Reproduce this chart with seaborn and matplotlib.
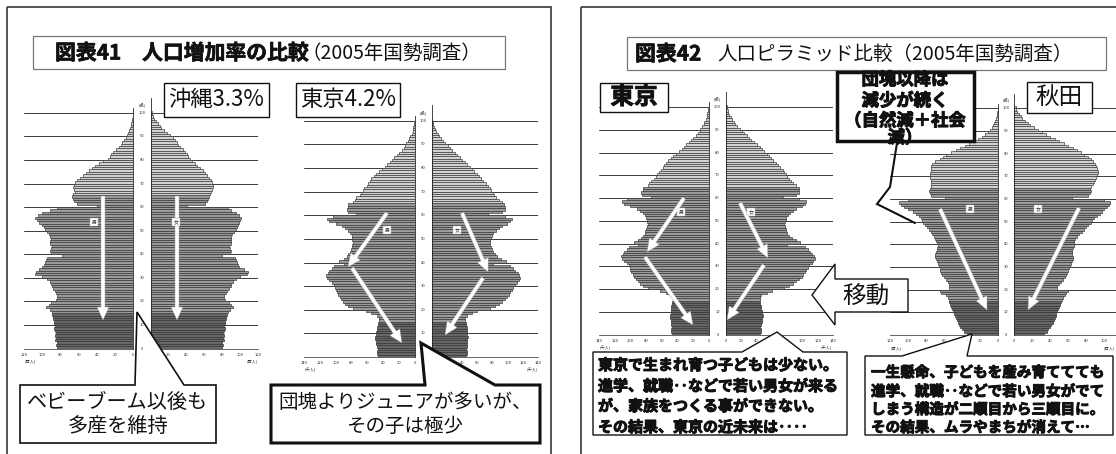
import pandas as pd
import matplotlib.pyplot as plt
import matplotlib.patheffects as pe
import seaborn as sns
from matplotlib.patches import Rectangle, Polygon, FancyArrow

W, H = 1116, 454

ages = list(range(101))

# 沖縄 (百人)
okinawa_male = [84, 85, 84, 86, 85, 86, 85, 86, 87, 86,
                87, 87, 88, 88, 89, 89, 92, 96, 93, 90,
                85, 84, 84, 85, 86, 88, 89, 90, 92, 95,
                100, 108, 107, 104, 100, 98, 97, 96, 95, 78,
                90, 91, 90, 89, 91, 92, 90, 92, 93, 95,
                97, 98, 100, 103, 106, 108, 105, 100, 92, 84,
                40, 62, 65, 66, 67, 66, 64, 65, 66, 65,
                64, 62, 58, 55, 52, 49, 45, 42, 38, 33,
                28, 26, 24, 22, 19, 16, 14, 12, 10, 8,
                7, 6, 5, 4, 3, 2, 1.5, 1, 0.8, 0.5,
                0.3]
okinawa_female = [80, 81, 80, 82, 81, 82, 81, 82, 83, 82,
                  83, 83, 84, 84, 85, 86, 88, 92, 90, 87,
                  83, 82, 82, 84, 85, 87, 89, 90, 92, 95,
                  100, 107, 108, 104, 99, 97, 96, 95, 94, 79,
                  88, 89, 88, 87, 89, 90, 89, 90, 91, 93,
                  95, 96, 97, 99, 100, 101, 99, 95, 90, 86,
                  40, 60, 63, 64, 65, 66, 67, 68, 69, 69,
                  68, 67, 65, 63, 61, 58, 55, 52, 49, 46,
                  44, 42, 40, 38, 36, 33, 31, 29, 27, 25,
                  22, 18, 15, 12, 10, 8, 6, 4, 3, 2,
                  1.5]

# 東京 (千人)
tokyo_male = [47, 48, 48, 47, 48, 49, 49, 50, 50, 49,
              49, 48, 48, 47, 47, 46, 46, 48, 55, 62,
              78, 84, 88, 91, 93, 95, 97, 99, 100, 101,
              102, 105, 108, 111, 112, 110, 108, 105, 102, 90,
              96, 90, 86, 84, 82, 81, 80, 79, 78, 79,
              79, 80, 82, 84, 88, 92, 100, 108, 111, 104,
              74, 85, 86, 84, 84, 78, 76, 74, 70, 68,
              66, 64, 61, 59, 57, 55, 52, 49, 46, 42,
              38, 35, 32, 29, 26, 23, 20, 17, 14, 12,
              11, 9, 7, 6, 4, 3, 2.5, 2, 1.2, 0.8,
              0.4]
tokyo_female = [45, 46, 46, 45, 46, 47, 47, 47, 48, 47,
                47, 46, 46, 45, 45, 44, 44, 46, 53, 60,
                76, 83, 88, 92, 96, 99, 101, 103, 105, 107,
                109, 112, 114, 116, 115, 113, 110, 107, 103, 80,
                97, 91, 86, 83, 80, 79, 78, 77, 76, 77,
                78, 79, 81, 84, 88, 92, 99, 103, 105, 96,
                74, 92, 96, 96, 95, 92, 88, 85, 82, 80,
                78, 76, 74, 71, 68, 65, 62, 59, 56, 53,
                50, 47, 44, 40, 37, 33, 30, 27, 24, 21,
                18, 15, 12, 10, 8, 6, 4.5, 3, 2, 1.5,
                1]

# 秋田 (百人)
akita_male = [35, 38, 40, 42, 43, 45, 46, 47, 48, 49,
              50, 51, 52, 53, 54, 55, 56, 58, 63, 64,
              55, 54, 55, 56, 58, 60, 62, 63, 64, 65,
              66, 67, 68, 69, 70, 70, 69, 68, 68, 67,
              68, 69, 70, 71, 73, 75, 77, 79, 81, 83,
              84, 86, 88, 91, 95, 100, 104, 108, 110, 100,
              59, 74, 76, 77, 76, 75, 74, 74, 75, 76,
              76, 76, 75, 75, 74, 73, 70, 65, 61, 58,
              52, 47, 42, 37, 32, 27, 22, 18, 14, 11,
              9, 7, 5.5, 4, 3, 2, 1.5, 1, 0.6, 0.4,
              0.2]
akita_female = [33, 36, 38, 40, 41, 43, 44, 45, 46, 47,
                48, 49, 50, 51, 52, 53, 54, 56, 58, 60,
                48, 48, 50, 52, 54, 56, 58, 59, 60, 61,
                62, 63, 64, 65, 65, 64, 64, 64, 65, 66,
                66, 67, 68, 70, 72, 75, 78, 80, 82, 85,
                87, 89, 92, 95, 98, 100, 103, 106, 107, 100,
                64, 82, 84, 85, 84, 86, 88, 89, 90, 91,
                92, 93, 93, 92, 91, 90, 88, 85, 82, 78,
                74, 70, 65, 60, 55, 50, 45, 40, 35, 31,
                26, 22, 18, 15, 12, 9, 7, 5, 3, 2,
                1.5]

age_ticks = list(range(0, 101, 10))

sns.set_style('white')
plt.rcParams['font.family'] = ['Noto Sans CJK JP', 'DejaVu Sans']

fig = plt.figure(figsize=(W / 100, H / 100), dpi=100)
fig.patch.set_facecolor('white')

PAL = {'young': '#666666', 'work': '#9a9a9a', 'old': '#d2d2d2'}


def rect(l, t, r, b):
    return [l / W, 1 - b / H, (r - l) / W, (b - t) / H]


def age_group(a):
    if a < 15:
        return 'young'
    if a < 65:
        return 'work'
    return 'old'


def half(values, l, r, y0, ppy, vmax, top, male, tick_max=None):
    ax = fig.add_axes(rect(l, y0 - (top + 0.5) * ppy, r, y0))
    df = pd.DataFrame({'age': ages, 'pop': values})
    df['group'] = df['age'].map(age_group)
    sns.barplot(data=df, x='pop', y='age', hue='group', palette=PAL, orient='h',
                native_scale=True, dodge=False, width=1.0, errorbar=None,
                edgecolor='#303030', linewidth=0.45, saturation=1,
                legend=False, ax=ax, zorder=2)
    for k in age_ticks[1:]:
        ax.axhline(k - 0.5, color='#3a3a3a', lw=0.7, zorder=0.5)
    ax.set_ylim(-0.5, top)
    ax.set_xlim((vmax, 0) if male else (0, vmax))
    ax.set_xticks(range(0, (tick_max or vmax) + 1, 20))
    ax.set_yticks([])
    ax.set_xlabel('')
    ax.set_ylabel('')
    ax.tick_params(axis='x', labelsize=3, length=1.5, width=0.4, pad=1.5, colors='#333')
    for s in ['top', 'left', 'right']:
        ax.spines[s].set_visible(False)
    inner = 'right' if male else 'left'
    ax.spines[inner].set_visible(True)
    ax.spines[inner].set_linewidth(0.6)
    ax.spines['bottom'].set_linewidth(0.5)
    ax.patch.set_alpha(0)
    return ax


def pyramid(male, female, cfg, tick_max=None):
    half(male, cfg['ml'], cfg['m0'], cfg['y0'], cfg['ppy'], cfg['vmax'], 101.5, True)
    half(female, cfg['f0'], cfg['fr'], cfg['y0'], cfg['ppy'], cfg['vmax'], 106, False, tick_max)


OKI = dict(ml=24, m0=133.3, f0=150.7, fr=258.3, y0=348.5, ppy=2.356, vmax=120)
TKL = dict(ml=304, m0=415, f0=431.7, fr=538.3, y0=357, ppy=2.362, vmax=140)
TKR = dict(ml=599, m0=709, f0=726, fr=833, y0=334.8, ppy=2.278, vmax=140)
AKT = dict(ml=890, m0=998, f0=1014.3, fr=1122, y0=335, ppy=2.267, vmax=120)

pyramid(okinawa_male, okinawa_female, OKI)
pyramid(tokyo_male, tokyo_female, TKL)
pyramid(tokyo_male, tokyo_female, TKR)
pyramid(akita_male, akita_female, AKT, tick_max=100)

# overlay in pixel coordinates for boxes, callouts and arrows
ov = fig.add_axes([0, 0, 1, 1], zorder=10)
ov.set_xlim(0, W)
ov.set_ylim(H, 0)
ov.axis('off')
ov.patch.set_alpha(0)

INK = '#111111'
HEAVY = [pe.withStroke(linewidth=0.7, foreground=INK)]


def box(l, t, r, b, lw=1.0, ec=INK):
    ov.add_patch(Rectangle((l, t), r - l, b - t, fc='white', ec=ec, lw=lw))


def callout(pts, lw=1.0):
    ov.add_patch(Polygon(pts, closed=True, fc='white', ec=INK, lw=lw, joinstyle='miter'))


def white_arrow(x0, y0, x1, y1):
    ov.add_patch(FancyArrow(x0, y0, x1 - x0, y1 - y0, width=4, head_width=12,
                            head_length=13, length_includes_head=True,
                            fc='white', ec='#9a9a9a', lw=0.3))


def age_axis(cfg, unit, right_unit_x=None):
    cx = (cfg['m0'] + cfg['f0']) / 2
    for k in age_ticks:
        ov.text(cx, cfg['y0'] - k * cfg['ppy'], str(k), fontsize=3, ha='center',
                va='center', color='#333')
    ov.text(cx, cfg['y0'] - 103.5 * cfg['ppy'], '(歳)', fontsize=3, ha='center',
            va='center', color='#333')
    ov.text(cfg['ml'] + 1, cfg['y0'] + 13, unit, fontsize=3, ha='left', va='center', color='#333')
    ov.text(right_unit_x or cfg['fr'] - 12, cfg['y0'] + 13, unit, fontsize=3, ha='left',
            va='center', color='#333')


def sex_labels(xm, xf, y):
    for x, s in [(xm, '男'), (xf, '女')]:
        ov.text(x, y, s, fontsize=3.5, ha='center', va='center', color='#333',
                bbox=dict(boxstyle='square,pad=0.35', fc='white', ec='#bbbbbb', lw=0.3))


# panel frames
ov.add_patch(Rectangle((6.5, 6.5), 544, 480, fill=False, ec='#3a3a3a', lw=1.2))
ov.add_patch(Rectangle((580.5, 7), 560, 480, fill=False, ec='#3a3a3a', lw=1.2))

renderer = fig.canvas.get_renderer()


def title(x, y, bold_txt, reg_txt, gap):
    t = ov.text(x, y, bold_txt, fontsize=15, fontweight='bold', ha='left', va='center',
                color=INK, path_effects=[pe.withStroke(linewidth=0.5, foreground=INK)])
    x1 = t.get_window_extent(renderer).x1
    ov.text(x1 + gap, y, reg_txt, fontsize=14, ha='left', va='center', color=INK)


box(33, 36, 505, 69, lw=0.9, ec='#777777')
title(55, 53, '図表41　人口増加率の比較', '（2005年国勢調査）', -8)
box(627, 37, 1106, 70, lw=0.9, ec='#777777')
title(635, 54, '図表42', '人口ピラミッド比較（2005年国勢調査）', 16)

age_axis(OKI, '(百人)')
age_axis(TKL, '(千人)')
age_axis(TKR, '(千人)')
age_axis(AKT, '(百人)', right_unit_x=1104)

sex_labels(94, 176, 222)
sex_labels(387, 457, 230)
sex_labels(681, 751, 212)
sex_labels(970, 1038, 209)

box(164, 83, 269, 117)
ov.text(216.5, 100, '沖縄3.3%', fontsize=16, ha='center', va='center', color=INK)
box(296, 83, 400, 117)
ov.text(348, 100, '東京4.2%', fontsize=16, ha='center', va='center', color=INK)

# white arrows
white_arrow(103, 196, 103, 320)
white_arrow(177, 196, 177, 320)
white_arrow(387, 213, 348, 267)
white_arrow(352, 268, 402, 343)
white_arrow(462, 213, 488, 272)
white_arrow(483, 278, 445, 335)
white_arrow(684, 198, 647, 252)
white_arrow(645, 257, 693, 325)
white_arrow(740, 203, 768, 258)
white_arrow(764, 265, 727, 320)
white_arrow(940, 209, 987, 310)
white_arrow(1079, 208, 1028, 310)

callout([(20, 385), (135, 385), (137, 312), (184, 385), (216, 385), (216, 443), (20, 443)], lw=1.2)
ov.text(118, 402, 'ベビーブーム以後も', fontsize=14.5, ha='center', va='center', color=INK)
ov.text(118, 426, '多産を維持', fontsize=14.5, ha='center', va='center', color=INK)

callout([(271, 385), (425, 385), (421, 343), (495, 385), (540, 385), (540, 443), (271, 443)], lw=2.2)
ov.text(405, 402, '団塊よりジュニアが多いが、', fontsize=14, ha='center', va='center', color=INK)
ov.text(405, 426, 'その子は極少', fontsize=14, ha='center', va='center', color=INK)

# right panel labels
box(600, 83, 668, 112)
ov.text(634, 97, '東京', fontsize=17, fontweight='bold', ha='center', va='center', color=INK,
        path_effects=[pe.withStroke(linewidth=0.6, foreground=INK)])
box(1027, 82, 1092, 113)
ov.text(1059.5, 97, '秋田', fontsize=17, ha='center', va='center', color=INK)

ov.add_patch(Polygon([(812, 295), (835, 264), (835, 279), (908, 279), (908, 312),
                      (835, 312), (835, 325)], closed=True, fc='white', ec=INK, lw=1.0))
ov.text(866, 296, '移動', fontsize=17, ha='center', va='center', color=INK)

box(837, 72, 974, 141, lw=2.5)
for y, s in [(80, '団塊以降は'), (101, '減少が続く'), (121, '（自然減＋社会'), (138, '減）')]:
    ov.text(905, y, s, fontsize=12.5, fontweight='bold', ha='center', va='center', color=INK,
            path_effects=HEAVY)
ov.plot([897, 890, 877, 915], [143, 187, 204, 223], color=INK, lw=1.5, solid_joinstyle='miter')

callout([(593, 352), (742, 352), (777, 332), (803, 352), (847, 352), (847, 435), (593, 435)], lw=1.0)
for y, s in [(365, '東京で生まれ育つ子どもは少ない。'), (386, '進学、就職‥などで若い男女が来る'),
             (406, 'が、家族をつくる事ができない。'), (427, 'その結果、東京の近未来は‥‥')]:
    ov.text(598, y, s, fontsize=10.8, fontweight='bold', ha='left', va='center', color=INK,
            path_effects=HEAVY)

callout([(865, 356), (902, 356), (972, 334), (967, 356), (1113, 356), (1113, 435), (865, 435)], lw=1.0)
for y, s in [(372, '一生懸命、子どもを産み育ててても'), (391, '進学、就職‥などで若い男女がでて'),
             (409, 'しまう構造が二順目から三順目に。'), (427, 'その結果、ムラやまちが消えて…')]:
    ov.text(871, y, s, fontsize=10.5, fontweight='bold', ha='left', va='center', color=INK,
            path_effects=HEAVY)

fig.savefig('out.png', dpi=100, facecolor='white')
